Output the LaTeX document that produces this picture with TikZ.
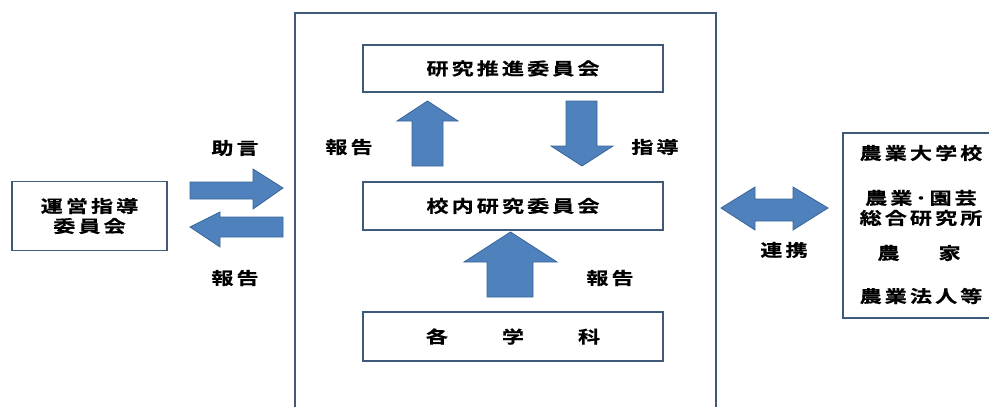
\documentclass[tikz,border=0pt]{standalone}
\usepackage{fontspec}
\newfontfamily\jp[FakeStretch=1.3,LetterSpace=18,FakeBold=0.6]{Noto Sans CJK JP Bold}
\begin{document}
\begin{tikzpicture}[x=1pt,y=-1pt,
  boxline/.style={draw=boxc,line width=1.8pt},
  blk/.style={boxline,fill=white,inner sep=0pt,font=\jp\fontsize{17}{20}\selectfont},
  lbl/.style={inner sep=0pt,font=\jp\fontsize{17}{20}\selectfont},
  barrow/.style={fill=arrf,draw=arrd,line width=0.8pt,line join=miter}]
\definecolor{boxc}{HTML}{3F5A78}
\definecolor{arrf}{HTML}{4F81BD}
\definecolor{arrd}{HTML}{3A6699}
\clip (0,0) rectangle (989,407);
\useasboundingbox (0,0) rectangle (989,407);
\fill[white] (0,0) rectangle (989,407);
% outer frame
\draw[boxline] (295,13) rectangle (716,420);
% inner boxes
\node[blk,minimum width=300pt,minimum height=47pt] (kenkyu) at (513,68.5) {研究推進委員会};
\node[blk,minimum width=300pt,minimum height=48pt] (kounai) at (513,206) {校内研究委員会};
\node[blk,minimum width=300pt,minimum height=49pt] (gakka) at (513,336.5) {各\hspace{54pt}学\hspace{54pt}科};
\node[blk,minimum width=155pt,minimum height=69pt,align=center] (unei) at (89.5,216) {運営指導\\委員会};
% right box
\draw[boxline] (843,133) rectangle (1000,318);
\node[lbl] (t1) at (921,153) {農業大学校};
\node[lbl] (t2) at (921,198) {農業･園芸};
\node[lbl] (t3) at (921,218) {総合研究所};
\node[lbl] (t4) at (919,253) {農\hspace{39pt}家};
\node[lbl] (t5) at (921,296) {農業法人等};
% labels
\node[lbl] (l1) at (235,148) {助言};
\node[lbl] (l2) at (235,278) {報告};
\node[lbl] (l3) at (349,147) {報告};
\node[lbl] (l4) at (655,147) {指導};
\node[lbl] (l5) at (610,278) {報告};
\node[lbl] (l6) at (784,250) {連携};
% block arrows
\draw[barrow] (190,182) -- (253,182) -- (253,169) -- (283,188) -- (253,209) -- (253,199) -- (190,199) -- cycle;
\draw[barrow] (283,217) -- (220,217) -- (220,212) -- (190,227) -- (220,247) -- (220,237) -- (283,237) -- cycle;
\draw[barrow] (412,166) -- (412,121) -- (397,121) -- (427.5,101) -- (458,121) -- (443,121) -- (443,166) -- cycle;
\draw[barrow] (566,101) -- (597,101) -- (597,146) -- (613,146) -- (582,166) -- (551,146) -- (566,146) -- cycle;
\draw[barrow] (487,297) -- (487,262) -- (464,262) -- (510.5,232) -- (557,262) -- (533,262) -- (533,297) -- cycle;
\draw[barrow] (721,208) -- (755,187) -- (755,199) -- (793,199) -- (793,187) -- (828,208) -- (793,230) -- (793,221) -- (755,221) -- (755,230) -- cycle;
\end{tikzpicture}
\end{document}
